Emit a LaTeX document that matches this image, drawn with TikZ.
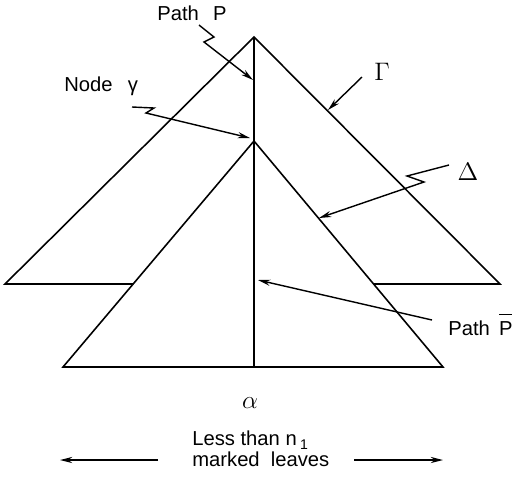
\documentclass[tikz,border=0pt]{standalone}
\usepackage{fontspec}
\setmainfont{Liberation Sans}
\usetikzlibrary{arrows.meta}

\tikzset{
  edge/.style={line width=0.9pt},
  pointer/.style={line width=0.8pt,-{Stealth[length=7pt,width=3.5pt]}},
  lbl/.style={font=\fontsize{11.5}{12.5}\selectfont,inner sep=0pt},
  greek/.style={font=\fontsize{15}{15}\selectfont,inner sep=0pt}
}

\begin{document}
\begin{tikzpicture}[x=0.02cm,y=-0.02cm]
\useasboundingbox (0,0) rectangle (513,488);
% corners of the two trees
\coordinate (top) at (254,37);
\coordinate (bl) at (5,284);
\coordinate (br) at (500,284);
\coordinate (gam) at (254,141);
\coordinate (sl) at (63,367);
\coordinate (sr) at (443,367);
\coordinate (leaf) at (254,367);
% big tree, its base hidden behind the small one
\draw[edge] (top) -- (bl) -- (br) -- cycle;
\filldraw[edge,fill=white] (gam) -- (sl) -- (sr) -- cycle;
% the path down to alpha
\draw[edge] (top) -- (leaf);

% labels
\node[lbl,anchor=west] (pathP) at (157,13) {Path\hspace{0.7em}P};
\node[lbl,anchor=west] (nodeG) at (64,86) {Node\hspace{0.75em}γ};
\node[greek] (labGamma) at (382,72) {$\Gamma$};
\node[greek] (labDelta) at (468,172) {$\Delta$};
\node[lbl,anchor=west] (pathPbar) at (448,325) {Path\hspace{0.45em}\rlap{\rule[11.5pt]{7.5pt}{0.7pt}}P};
\node[font=\fontsize{14}{14}\selectfont,inner sep=0pt] (alpha) at (250,403) {$\alpha$};
\node[lbl,anchor=north west,align=left] (leaves) at (192,430)
  {Less than n\,\raisebox{-2.5pt}{\footnotesize 1}\\marked\ \ leaves};

% pointers
\coordinate (tipP) at (253,80);
\coordinate (tipG) at (250,138);
\coordinate (tipGamma) at (328,110);
\coordinate (tipDelta) at (319,218);
\coordinate (tipPbar) at (258,280);
\draw[pointer] (199,25) -- ++(15,12) -- ++(-10,5) -- (tipP);
\draw[pointer] (132,107) -- ++(22,1) -- ++(-8,5) -- (tipG);
\draw[pointer] (362,77) -- (tipGamma);
\draw[pointer] (449,165) -- ++(-42,11) -- ++(17,6) -- (tipDelta);
\draw[pointer] (432,320) -- (tipPbar);

% width of the leaves
\coordinate (lend) at (60,460);
\coordinate (rend) at (443,460);
\draw[pointer] (158,460) -- (lend);
\draw[pointer] (354,460) -- (rend);
\end{tikzpicture}
\end{document}
